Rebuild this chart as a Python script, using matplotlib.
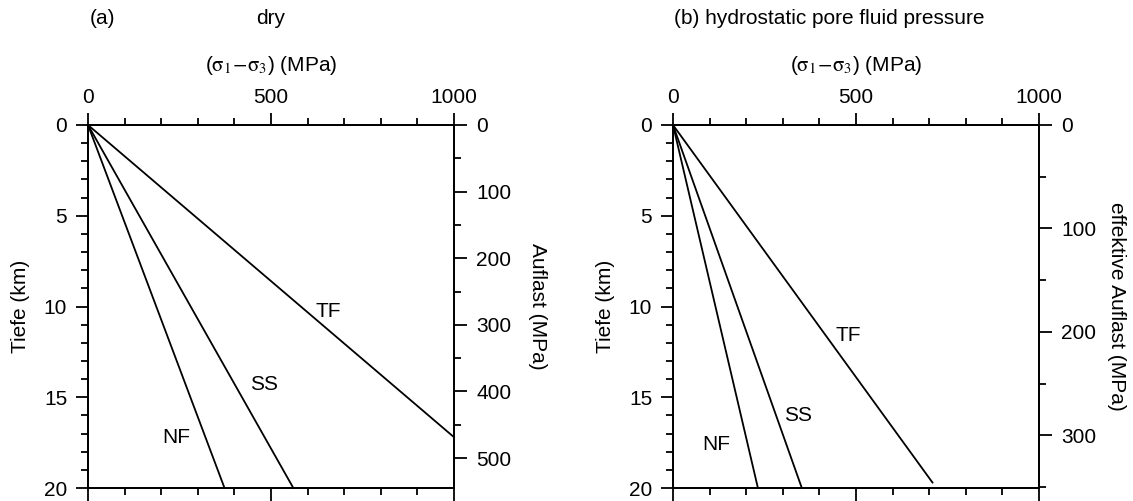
import matplotlib
matplotlib.use("Agg")
import matplotlib.pyplot as plt
from matplotlib.ticker import MultipleLocator

plt.rcParams["font.family"] = ["Liberation Sans", "DejaVu Sans"]
plt.rcParams["mathtext.fontset"] = "stix"
plt.rcParams["font.size"] = 15

# differential stress (MPa) at the end of each line, depth (km) of that end
faults = ["TF", "SS", "NF"]
dry_stress = [1000, 561, 373]
dry_depth = [17.2, 20, 20]
hydro_stress = [709, 352, 232]
hydro_depth = [19.7, 20, 20]

# label positions (stress, depth)
dry_lab_x = [657, 482, 240]
dry_lab_y = [10.3, 14.3, 17.2]
hydro_lab_x = [478, 342, 117]
hydro_lab_y = [11.6, 16.0, 17.6]

# overburden gradient (MPa per km)
dry_grad = 27.25
hydro_grad = 17.55

xlabel = r"($\mathrm{\sigma}_1\!-\!\mathrm{\sigma}_3$) (MPa)"

fig = plt.figure(figsize=(11.33, 5.01), dpi=100)
W, H = 1133, 501


def panel(left_px, stress, depth, lab_x, lab_y, grad, right_label, rpad):
    ax = fig.add_axes([left_px / W, 1 - 488 / H, 366 / W, 363 / H])
    for s, d in zip(stress, depth):
        ax.plot([0, s], [0, d], color="black", lw=1.3, clip_on=False)
    for name, x, y in zip(faults, lab_x, lab_y):
        ax.text(x, y, name, ha="center", va="center", fontsize=15)
    ax.set_xlim(0, 1000)
    ax.set_ylim(20, 0)
    ax.xaxis.set_major_locator(MultipleLocator(500))
    ax.xaxis.set_minor_locator(MultipleLocator(100))
    ax.yaxis.set_major_locator(MultipleLocator(5))
    ax.yaxis.set_minor_locator(MultipleLocator(1))
    ax.tick_params(which="both", direction="out", width=1.3,
                   top=True, labeltop=True, bottom=True, labelbottom=False,
                   right=False)
    ax.tick_params(which="major", length=9, pad=4)
    ax.tick_params(which="minor", length=5)
    ax.tick_params(axis="y", pad=6)
    ax.xaxis.set_label_position("top")
    ax.set_xlabel(xlabel, labelpad=12)
    ax.set_ylabel("Tiefe (km)", labelpad=10)
    for sp in ax.spines.values():
        sp.set_linewidth(1.3)

    ax2 = ax.twinx()
    ax2.set_ylim(20 * grad, 0)
    ax2.yaxis.set_major_locator(MultipleLocator(100))
    ax2.yaxis.set_minor_locator(MultipleLocator(50))
    ax2.tick_params(which="both", direction="out", width=1.3)
    ax2.tick_params(which="major", length=9, pad=7)
    ax2.tick_params(which="minor", length=5)
    ax2.set_ylabel(right_label, rotation=270, va="bottom", labelpad=rpad)
    for sp in ax2.spines.values():
        sp.set_linewidth(1.3)
    return ax


ax_a = panel(88, dry_stress, dry_depth, dry_lab_x, dry_lab_y, dry_grad,
             "Auflast (MPa)", 12)
ax_b = panel(673, hydro_stress, hydro_depth, hydro_lab_x, hydro_lab_y, hydro_grad,
             "effektive Auflast (MPa)", 8)

fig.text(90 / W, 1 - 18 / H, "(a)", ha="left", va="center", fontsize=15)
fig.text(271 / W, 1 - 18 / H, "dry", ha="center", va="center", fontsize=15)
fig.text(674 / W, 1 - 18 / H, "(b) hydrostatic pore fluid pressure",
         ha="left", va="center", fontsize=15)

fig.savefig("out.png", dpi=100)
